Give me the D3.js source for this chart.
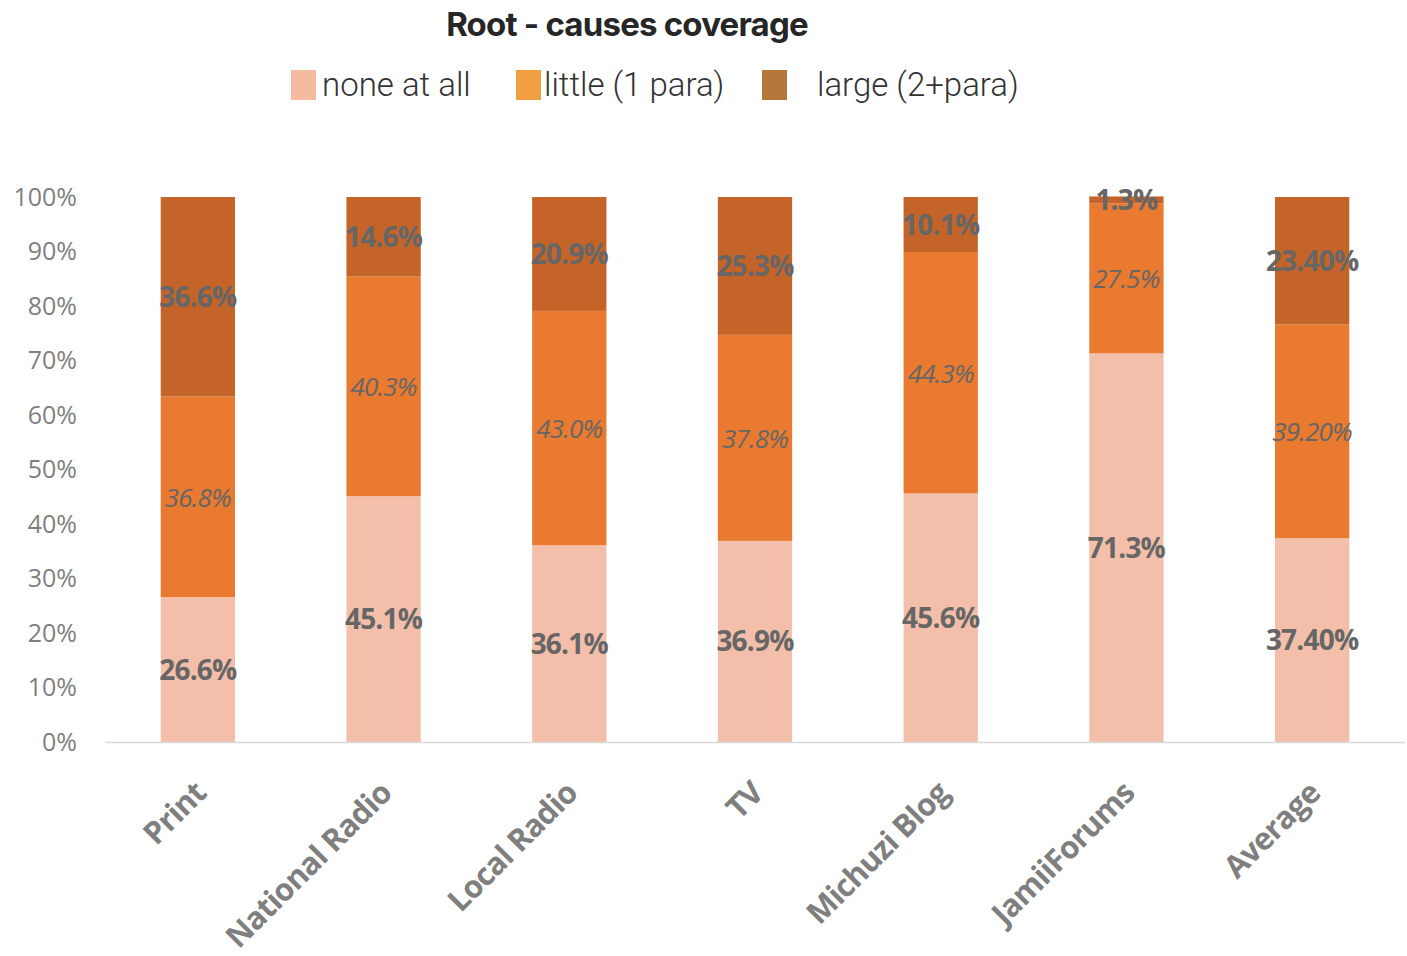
<!DOCTYPE html>
<html>
<head>
<meta charset="utf-8">
<script src="https://cdn.jsdelivr.net/npm/d3@7"></script>
<style>
  body { margin: 0; background: #fff; }
  svg { display: block; }
</style>
</head>
<body>
<div id="chart"></div>
<script>
const width = 1407;
const height = 956;

// data
const categories = ["Print", "National Radio", "Local Radio", "TV", "Michuzi Blog", "JamiiForums", "Average"];
const seriesNames = ["none at all", "little (1 para)", "large (2+para)"];
const noneValues = [26.6, 45.1, 36.1, 36.9, 45.6, 71.3, 37.4];
const littleValues = [36.8, 40.3, 43.0, 37.8, 44.3, 27.5, 39.2];
const largeValues = [36.6, 14.6, 20.9, 25.3, 10.1, 1.3, 23.4];
const yTicks = [0, 10, 20, 30, 40, 50, 60, 70, 80, 90, 100];

const barColors = ["#F4BFAA", "#E97A2F", "#C56428"];
const legendColors = ["#F4BBA0", "#F0A040", "#B5773A"];

const rows = categories.map((c, i) => ({
    cat: c,
    none: noneValues[i],
    little: littleValues[i],
    large: largeValues[i]
}));
const keys = ["none", "little", "large"];

const svg = d3.select("#chart").append("svg")
    .attr("width", width)
    .attr("height", height);

const x = d3.scaleBand()
    .domain(categories)
    .range([105, 1405])
    .paddingInner(0.6)
    .paddingOuter(0.3);

const y = d3.scaleLinear()
    .domain([0, 100])
    .range([742, 197]);

// title
svg.append("text")
    .attr("x", 627)
    .attr("y", 36)
    .attr("text-anchor", "middle")
    .style("font-family", "Inter, Roboto, sans-serif")
    .style("font-size", "33px")
    .style("font-weight", 700)
    .style("letter-spacing", "-0.8px")
    .attr("fill", "#262626")
    .text("Root - causes coverage");

// legend
const legendX = [291, 516, 762];
const legendTextX = [322, 544, 817];
const legend = svg.append("g");
seriesNames.forEach((name, i) => {
    legend.append("rect")
        .attr("x", legendX[i])
        .attr("y", 70)
        .attr("width", 25)
        .attr("height", 30)
        .attr("fill", legendColors[i]);
    legend.append("text")
        .attr("x", legendTextX[i])
        .attr("y", 96)
        .style("font-family", "Roboto, sans-serif")
        .style("font-size", "33px")
        .style("font-weight", 300)
        .attr("fill", "#333")
        .text(name);
});

// y axis
const yAxis = d3.axisLeft(y)
    .tickValues(yTicks)
    .tickSize(0)
    .tickPadding(0)
    .tickFormat(d => d + "%");
const yg = svg.append("g")
    .attr("transform", "translate(77,0)")
    .call(yAxis);
yg.select(".domain").remove();
yg.selectAll("text")
    .style("font-family", "'Open Sans', sans-serif")
    .style("font-size", "25px")
    .attr("fill", "#7f7f7f");

// stacked bars
const stack = d3.stack().keys(keys)(rows);

const layers = svg.append("g").selectAll("g")
    .data(stack)
    .join("g")
    .attr("fill", (d, i) => barColors[i]);

layers.selectAll("rect")
    .data(d => d)
    .join("rect")
    .attr("x", d => x(d.data.cat))
    .attr("width", x.bandwidth())
    .attr("y", d => y(d[1]))
    .attr("height", d => y(d[0]) - y(d[1]));

// x axis line
svg.append("line")
    .attr("x1", 105)
    .attr("x2", 1405)
    .attr("y1", 742.5)
    .attr("y2", 742.5)
    .attr("stroke", "#d9d9d9")
    .attr("stroke-width", 1.5);

// data labels
stack.forEach((layer, li) => {
    svg.append("g").selectAll("text")
        .data(layer)
        .join("text")
        .attr("x", d => x(d.data.cat) + x.bandwidth() / 2)
        .attr("y", d => (y(d[0]) + y(d[1])) / 2 + 10)
        .attr("text-anchor", "middle")
        .style("font-family", "'Open Sans', sans-serif")
        .style("font-size", li === 1 ? "26px" : "28px")
        .style("font-weight", li === 1 ? 400 : 700)
        .style("font-style", li === 1 ? "italic" : "normal")
        .style("letter-spacing", "-0.8px")
        .attr("fill", "#666")
        .text(d => {
            const v = d[1] - d[0];
            return d.data.cat === "Average" ? v.toFixed(2) + "%" : v.toFixed(1) + "%";
        });
});

// category labels
svg.append("g").selectAll("text")
    .data(categories)
    .join("text")
    .attr("transform", d => `translate(${x(d) + x.bandwidth() / 2 + 10},795) rotate(-45)`)
    .attr("text-anchor", "end")
    .style("font-family", "'Open Sans', sans-serif")
    .style("font-size", "31px")
    .style("font-weight", 700)
    .style("letter-spacing", "-0.8px")
    .attr("fill", "#7f7f7f")
    .text(d => d);
</script>
</body>
</html>
